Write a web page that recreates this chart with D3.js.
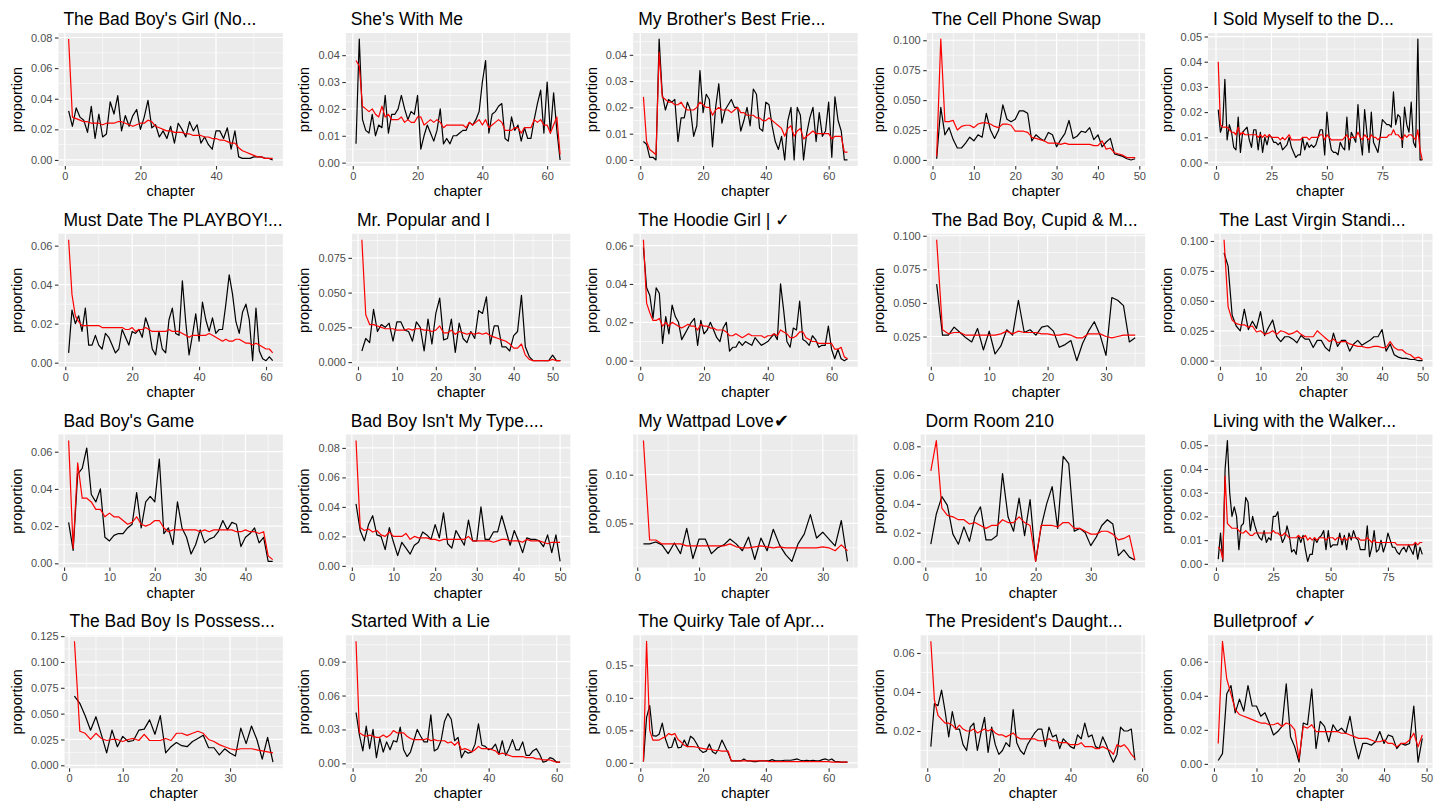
<!DOCTYPE html>
<html>
<head>
<meta charset="utf-8">
<script src="https://cdn.jsdelivr.net/npm/d3@7"></script>
<style>
  body { margin: 0; background: #fff; }
  svg text { font-family: "Liberation Sans", Arial, Helvetica, sans-serif; }
</style>
</head>
<body>
<script>
var panelTitles = [
  "The Bad Boy's Girl (No...", "She's With Me", "My Brother's Best Frie...", "The Cell Phone Swap", "I Sold Myself to the D...",
  "Must Date The PLAYBOY!...", "Mr. Popular and I", "The Hoodie Girl | \u2713", "The Bad Boy, Cupid & M...", "The Last Virgin Standi...",
  "Bad Boy's Game", "Bad Boy Isn't My Type....", "My Wattpad Love\u2714", "Dorm Room 210", "Living with the Walker...",
  "The Bad Boy Is Possess...", "Started With a Lie", "The Quirky Tale of Apr...", "The President's Daught...", "Bulletproof \u2713"
];

// black line: observed proportion per chapter; red line: predicted proportion
var actual01 = [0.032,0.022,0.034,0.028,0.026,0.018,0.035,0.014,0.030,0.015,0.017,0.038,0.030,0.042,0.019,0.029,0.022,0.029,0.033,0.020,0.028,0.039,0.021,0.023,0.015,0.019,0.014,0.022,0.011,0.024,0.020,0.015,0.025,0.019,0.023,0.011,0.015,0.010,0.007,0.019,0.019,0.014,0.021,0.007,0.019,0.002,0.001,0.001,0.001,0.002,0.002,0.002,0.001,0.001,0.000];
var model01 = [0.079,0.028,0.027,0.026,0.025,0.025,0.024,0.024,0.024,0.023,0.024,0.024,0.024,0.025,0.025,0.024,0.023,0.022,0.023,0.024,0.024,0.026,0.025,0.022,0.021,0.020,0.019,0.019,0.018,0.018,0.018,0.017,0.017,0.016,0.016,0.016,0.015,0.015,0.014,0.014,0.013,0.013,0.012,0.011,0.011,0.008,0.006,0.005,0.004,0.003,0.002,0.002,0.001,0.001,0.001];

var actual02 = [0.007,0.046,0.016,0.012,0.011,0.018,0.010,0.014,0.013,0.025,0.011,0.018,0.018,0.020,0.025,0.020,0.016,0.019,0.018,0.025,0.005,0.010,0.014,0.011,0.008,0.012,0.020,0.007,0.009,0.007,0.010,0.010,0.011,0.012,0.012,0.015,0.014,0.016,0.019,0.030,0.038,0.011,0.018,0.019,0.021,0.022,0.009,0.008,0.017,0.012,0.014,0.008,0.013,0.009,0.009,0.016,0.022,0.027,0.011,0.030,0.011,0.026,0.012,0.001];
var model02 = [0.038,0.036,0.021,0.020,0.019,0.020,0.018,0.017,0.021,0.017,0.018,0.016,0.016,0.016,0.017,0.015,0.016,0.015,0.015,0.017,0.017,0.014,0.015,0.016,0.015,0.016,0.015,0.013,0.014,0.014,0.014,0.014,0.014,0.014,0.013,0.015,0.014,0.015,0.016,0.014,0.016,0.013,0.014,0.015,0.016,0.015,0.012,0.012,0.012,0.013,0.013,0.011,0.013,0.013,0.013,0.016,0.015,0.016,0.014,0.014,0.011,0.014,0.017,0.003];

var actual03 = [0.007,0.006,0.001,0.001,0.000,0.046,0.025,0.019,0.023,0.022,0.023,0.007,0.016,0.016,0.022,0.019,0.009,0.013,0.034,0.018,0.025,0.023,0.005,0.020,0.029,0.014,0.019,0.021,0.023,0.020,0.020,0.011,0.015,0.020,0.013,0.027,0.025,0.012,0.011,0.022,0.021,0.013,0.007,0.004,0.009,0.000,0.015,0.020,0.000,0.020,0.017,0.000,0.010,0.016,0.020,0.007,0.018,0.009,0.011,0.022,0.001,0.024,0.015,0.011,0.000,0.000];
var model03 = [0.024,0.007,0.004,0.003,0.002,0.041,0.024,0.023,0.022,0.022,0.021,0.021,0.022,0.020,0.019,0.019,0.019,0.020,0.022,0.021,0.020,0.020,0.017,0.019,0.020,0.019,0.019,0.019,0.018,0.019,0.020,0.018,0.018,0.017,0.017,0.017,0.016,0.016,0.015,0.015,0.016,0.015,0.014,0.013,0.012,0.009,0.012,0.013,0.009,0.011,0.012,0.008,0.009,0.010,0.011,0.010,0.010,0.010,0.010,0.010,0.008,0.009,0.009,0.009,0.003,0.003];

var actual04 = [0.001,0.044,0.021,0.027,0.017,0.010,0.010,0.014,0.019,0.016,0.021,0.019,0.039,0.025,0.018,0.025,0.046,0.034,0.032,0.034,0.041,0.041,0.039,0.016,0.021,0.018,0.016,0.023,0.021,0.011,0.017,0.022,0.033,0.018,0.020,0.024,0.023,0.027,0.017,0.021,0.011,0.015,0.018,0.005,0.004,0.003,0.001,0.000,0.001];
var model04 = [0.003,0.101,0.032,0.032,0.033,0.025,0.028,0.029,0.029,0.027,0.030,0.031,0.031,0.030,0.028,0.027,0.030,0.030,0.029,0.024,0.024,0.024,0.023,0.019,0.018,0.017,0.016,0.014,0.014,0.014,0.013,0.014,0.013,0.013,0.013,0.013,0.013,0.013,0.012,0.012,0.016,0.009,0.010,0.006,0.005,0.004,0.002,0.002,0.002];

var actual05 = [0.021,0.012,0.015,0.033,0.009,0.015,0.012,0.006,0.005,0.018,0.004,0.012,0.013,0.014,0.009,0.006,0.013,0.013,0.005,0.012,0.004,0.010,0.007,0.011,0.010,0.008,0.008,0.007,0.008,0.005,0.006,0.007,0.010,0.006,0.004,0.002,0.003,0.003,0.010,0.005,0.008,0.006,0.007,0.006,0.007,0.010,0.013,0.013,0.003,0.020,0.010,0.005,0.004,0.004,0.003,0.008,0.006,0.005,0.018,0.005,0.012,0.010,0.008,0.023,0.010,0.003,0.021,0.012,0.004,0.020,0.008,0.006,0.004,0.010,0.017,0.016,0.015,0.015,0.014,0.028,0.015,0.019,0.018,0.006,0.022,0.015,0.012,0.024,0.008,0.006,0.049,0.001,0.001];
var model05 = [0.040,0.015,0.014,0.014,0.014,0.013,0.012,0.012,0.011,0.014,0.011,0.012,0.011,0.011,0.011,0.011,0.011,0.011,0.010,0.011,0.010,0.011,0.010,0.011,0.010,0.010,0.010,0.010,0.009,0.010,0.009,0.010,0.011,0.009,0.009,0.009,0.009,0.009,0.010,0.010,0.010,0.009,0.010,0.010,0.010,0.010,0.011,0.011,0.009,0.011,0.010,0.009,0.009,0.009,0.009,0.009,0.009,0.010,0.011,0.009,0.010,0.010,0.010,0.012,0.010,0.009,0.011,0.010,0.009,0.011,0.010,0.010,0.009,0.010,0.010,0.010,0.010,0.011,0.011,0.013,0.011,0.011,0.010,0.009,0.011,0.010,0.011,0.011,0.010,0.009,0.013,0.005,0.001];

var actual06 = [0.005,0.027,0.020,0.024,0.016,0.028,0.009,0.009,0.014,0.009,0.007,0.015,0.013,0.009,0.005,0.007,0.017,0.013,0.009,0.016,0.015,0.017,0.013,0.023,0.018,0.007,0.004,0.016,0.007,0.005,0.022,0.028,0.015,0.014,0.042,0.021,0.004,0.014,0.025,0.011,0.031,0.022,0.016,0.023,0.015,0.017,0.017,0.030,0.045,0.035,0.021,0.015,0.026,0.030,0.022,0.001,0.028,0.006,0.002,0.001,0.003,0.001];
var model06 = [0.063,0.035,0.024,0.021,0.019,0.019,0.019,0.019,0.019,0.019,0.018,0.018,0.018,0.018,0.018,0.018,0.018,0.017,0.017,0.018,0.016,0.017,0.017,0.018,0.017,0.016,0.016,0.016,0.016,0.016,0.017,0.016,0.016,0.016,0.015,0.014,0.013,0.014,0.014,0.014,0.014,0.014,0.015,0.014,0.013,0.012,0.011,0.012,0.011,0.011,0.012,0.012,0.011,0.010,0.010,0.009,0.010,0.009,0.008,0.007,0.007,0.005];

var actual07 = [0.008,0.017,0.014,0.038,0.022,0.027,0.025,0.028,0.015,0.029,0.029,0.023,0.022,0.015,0.029,0.025,0.008,0.031,0.013,0.035,0.046,0.016,0.017,0.031,0.007,0.028,0.017,0.014,0.022,0.017,0.037,0.035,0.047,0.013,0.026,0.026,0.011,0.011,0.008,0.019,0.022,0.048,0.011,0.004,0.001,0.001,0.001,0.001,0.001,0.005,0.001,0.001];
var model07 = [0.088,0.034,0.027,0.027,0.026,0.025,0.024,0.024,0.024,0.023,0.023,0.023,0.024,0.023,0.024,0.024,0.023,0.023,0.022,0.023,0.026,0.021,0.021,0.023,0.020,0.022,0.021,0.020,0.021,0.020,0.021,0.020,0.021,0.019,0.018,0.017,0.016,0.015,0.013,0.010,0.010,0.013,0.005,0.002,0.001,0.001,0.001,0.001,0.001,0.002,0.001,0.001];

var actual08 = [0.059,0.038,0.034,0.022,0.038,0.035,0.009,0.023,0.014,0.029,0.023,0.020,0.011,0.014,0.017,0.020,0.022,0.008,0.021,0.014,0.016,0.020,0.016,0.012,0.010,0.017,0.020,0.005,0.007,0.007,0.010,0.008,0.010,0.009,0.008,0.012,0.010,0.008,0.009,0.010,0.012,0.014,0.011,0.040,0.026,0.010,0.007,0.017,0.016,0.031,0.011,0.010,0.008,0.013,0.011,0.007,0.008,0.008,0.018,0.006,0.001,0.006,0.001,0.000,0.001];
var model08 = [0.063,0.030,0.025,0.021,0.021,0.022,0.018,0.020,0.018,0.020,0.019,0.018,0.017,0.018,0.019,0.018,0.018,0.016,0.019,0.018,0.018,0.017,0.017,0.016,0.016,0.016,0.015,0.013,0.013,0.014,0.013,0.012,0.013,0.014,0.013,0.013,0.013,0.013,0.012,0.013,0.013,0.014,0.013,0.016,0.015,0.014,0.012,0.012,0.013,0.015,0.015,0.012,0.011,0.010,0.010,0.009,0.009,0.009,0.009,0.009,0.006,0.006,0.007,0.002,0.001];

var actual09 = [0.064,0.026,0.026,0.032,0.028,0.024,0.021,0.031,0.015,0.029,0.012,0.018,0.030,0.026,0.052,0.028,0.030,0.026,0.032,0.033,0.029,0.017,0.019,0.022,0.007,0.020,0.029,0.036,0.026,0.011,0.054,0.052,0.048,0.021,0.024];
var model09 = [0.097,0.030,0.027,0.028,0.028,0.026,0.026,0.026,0.026,0.026,0.026,0.027,0.029,0.027,0.029,0.028,0.028,0.028,0.027,0.027,0.026,0.026,0.027,0.026,0.024,0.024,0.027,0.027,0.027,0.025,0.024,0.025,0.026,0.026,0.026];

var actual10 = [0.090,0.079,0.038,0.029,0.025,0.043,0.026,0.033,0.027,0.041,0.021,0.028,0.034,0.020,0.016,0.020,0.020,0.018,0.015,0.021,0.018,0.018,0.011,0.017,0.017,0.011,0.008,0.023,0.012,0.017,0.017,0.008,0.014,0.017,0.013,0.015,0.017,0.020,0.020,0.026,0.008,0.014,0.005,0.003,0.002,0.002,0.001,0.001,0.000,0.000];
var model10 = [0.101,0.045,0.034,0.031,0.030,0.030,0.028,0.029,0.024,0.025,0.022,0.023,0.025,0.022,0.025,0.024,0.022,0.023,0.025,0.022,0.020,0.020,0.020,0.025,0.022,0.019,0.016,0.018,0.015,0.016,0.016,0.014,0.013,0.012,0.012,0.011,0.011,0.012,0.012,0.011,0.011,0.016,0.011,0.009,0.009,0.006,0.005,0.002,0.003,0.001];

var actual11 = [0.022,0.007,0.048,0.051,0.062,0.037,0.033,0.040,0.014,0.012,0.015,0.016,0.016,0.019,0.021,0.038,0.019,0.033,0.036,0.033,0.056,0.016,0.019,0.010,0.033,0.019,0.014,0.005,0.010,0.018,0.011,0.013,0.014,0.017,0.023,0.018,0.022,0.021,0.009,0.014,0.016,0.019,0.011,0.014,0.001,0.001];
var model11 = [0.066,0.008,0.054,0.035,0.035,0.033,0.029,0.029,0.025,0.027,0.025,0.025,0.023,0.021,0.022,0.025,0.021,0.020,0.021,0.023,0.023,0.019,0.017,0.018,0.018,0.018,0.018,0.018,0.018,0.017,0.018,0.017,0.018,0.018,0.018,0.018,0.018,0.017,0.017,0.018,0.017,0.017,0.016,0.017,0.004,0.002];

var actual12 = [0.042,0.024,0.017,0.028,0.034,0.021,0.020,0.011,0.026,0.016,0.007,0.016,0.012,0.008,0.014,0.016,0.023,0.021,0.018,0.028,0.019,0.036,0.015,0.012,0.024,0.019,0.014,0.031,0.017,0.017,0.040,0.018,0.018,0.023,0.023,0.034,0.024,0.014,0.024,0.017,0.009,0.019,0.018,0.018,0.017,0.013,0.021,0.009,0.021,0.003];
var model12 = [0.085,0.026,0.024,0.025,0.023,0.024,0.021,0.020,0.023,0.020,0.020,0.020,0.022,0.018,0.020,0.019,0.019,0.019,0.018,0.018,0.017,0.018,0.018,0.018,0.018,0.018,0.018,0.020,0.017,0.017,0.017,0.017,0.017,0.016,0.017,0.018,0.018,0.017,0.017,0.017,0.016,0.018,0.017,0.017,0.017,0.016,0.015,0.016,0.016,0.016];

var actual13 = [0.029,0.029,0.031,0.028,0.019,0.030,0.019,0.045,0.014,0.034,0.034,0.019,0.025,0.028,0.034,0.029,0.022,0.036,0.013,0.035,0.022,0.044,0.028,0.018,0.011,0.029,0.039,0.059,0.035,0.041,0.034,0.027,0.053,0.011];
var model13 = [0.135,0.033,0.033,0.029,0.029,0.029,0.029,0.027,0.027,0.027,0.027,0.027,0.027,0.027,0.029,0.026,0.025,0.025,0.026,0.027,0.026,0.025,0.026,0.025,0.025,0.025,0.025,0.025,0.025,0.026,0.025,0.022,0.028,0.022];

var actual14 = [0.012,0.033,0.045,0.039,0.019,0.012,0.024,0.014,0.031,0.038,0.015,0.015,0.018,0.061,0.031,0.021,0.044,0.018,0.043,0.000,0.024,0.040,0.052,0.023,0.073,0.068,0.021,0.023,0.020,0.011,0.017,0.025,0.029,0.026,0.004,0.008,0.003,0.001];
var model14 = [0.063,0.084,0.037,0.032,0.031,0.029,0.029,0.026,0.027,0.025,0.023,0.025,0.025,0.029,0.027,0.027,0.031,0.027,0.025,0.000,0.025,0.025,0.025,0.024,0.027,0.027,0.023,0.023,0.021,0.019,0.019,0.021,0.021,0.019,0.015,0.016,0.018,0.001];

var actual15 = [0.002,0.013,0.001,0.040,0.052,0.030,0.020,0.024,0.020,0.006,0.016,0.017,0.028,0.026,0.014,0.020,0.016,0.013,0.011,0.010,0.014,0.009,0.011,0.010,0.020,0.020,0.022,0.013,0.009,0.011,0.016,0.012,0.005,0.006,0.004,0.012,0.009,0.012,0.006,0.001,0.004,0.004,0.011,0.009,0.011,0.012,0.014,0.006,0.014,0.007,0.008,0.008,0.008,0.013,0.008,0.012,0.006,0.013,0.010,0.014,0.011,0.010,0.006,0.006,0.006,0.016,0.003,0.007,0.014,0.005,0.006,0.010,0.005,0.008,0.013,0.010,0.007,0.007,0.005,0.004,0.006,0.007,0.005,0.008,0.006,0.004,0.009,0.002,0.007,0.004];
var model15 = [0.007,0.006,0.002,0.037,0.017,0.016,0.015,0.015,0.015,0.014,0.013,0.013,0.014,0.013,0.012,0.012,0.013,0.013,0.013,0.013,0.013,0.013,0.013,0.013,0.014,0.013,0.013,0.012,0.012,0.013,0.012,0.011,0.011,0.011,0.011,0.012,0.011,0.011,0.012,0.010,0.011,0.010,0.011,0.010,0.011,0.011,0.011,0.010,0.011,0.011,0.011,0.010,0.011,0.011,0.010,0.011,0.010,0.011,0.011,0.011,0.011,0.011,0.010,0.010,0.010,0.011,0.010,0.009,0.010,0.009,0.009,0.009,0.009,0.009,0.009,0.009,0.009,0.009,0.008,0.008,0.008,0.008,0.008,0.008,0.008,0.008,0.009,0.008,0.009,0.009];

var actual16 = [0.067,0.060,0.048,0.034,0.047,0.030,0.012,0.034,0.018,0.028,0.023,0.024,0.034,0.035,0.044,0.030,0.048,0.012,0.018,0.022,0.019,0.018,0.023,0.026,0.029,0.017,0.017,0.010,0.016,0.012,0.009,0.036,0.021,0.038,0.025,0.006,0.027,0.003];
var model16 = [0.120,0.033,0.031,0.025,0.031,0.026,0.024,0.025,0.025,0.023,0.025,0.026,0.024,0.030,0.024,0.024,0.024,0.026,0.024,0.031,0.031,0.029,0.031,0.033,0.031,0.025,0.023,0.020,0.018,0.016,0.015,0.016,0.016,0.016,0.015,0.014,0.013,0.012];

var actual17 = [0.045,0.025,0.011,0.033,0.013,0.030,0.005,0.022,0.010,0.019,0.012,0.020,0.019,0.032,0.012,0.006,0.010,0.020,0.030,0.024,0.019,0.019,0.043,0.011,0.013,0.020,0.037,0.044,0.039,0.020,0.023,0.005,0.011,0.009,0.010,0.017,0.035,0.016,0.015,0.012,0.013,0.017,0.008,0.020,0.007,0.013,0.021,0.012,0.012,0.019,0.007,0.007,0.011,0.013,0.008,0.001,0.002,0.005,0.004,0.001,0.001];
var model17 = [0.108,0.027,0.025,0.024,0.025,0.024,0.023,0.023,0.025,0.023,0.025,0.029,0.027,0.027,0.027,0.024,0.022,0.021,0.021,0.021,0.021,0.022,0.020,0.021,0.020,0.020,0.020,0.018,0.019,0.016,0.019,0.012,0.013,0.012,0.010,0.012,0.015,0.013,0.013,0.013,0.012,0.011,0.008,0.009,0.008,0.007,0.006,0.006,0.006,0.006,0.005,0.005,0.005,0.004,0.004,0.003,0.003,0.003,0.002,0.001,0.001];

var actual18 = [0.002,0.070,0.088,0.042,0.041,0.044,0.061,0.037,0.023,0.024,0.039,0.023,0.024,0.035,0.025,0.041,0.037,0.029,0.020,0.016,0.018,0.029,0.017,0.014,0.022,0.035,0.025,0.015,0.003,0.003,0.003,0.003,0.006,0.003,0.003,0.002,0.002,0.003,0.003,0.003,0.003,0.005,0.003,0.003,0.003,0.004,0.004,0.004,0.005,0.006,0.004,0.003,0.004,0.003,0.004,0.003,0.003,0.005,0.006,0.004,0.006,0.002,0.002,0.001,0.001,0.001];
var model18 = [0.002,0.187,0.050,0.035,0.035,0.035,0.038,0.040,0.045,0.043,0.045,0.036,0.032,0.027,0.025,0.025,0.025,0.024,0.023,0.022,0.021,0.021,0.020,0.019,0.019,0.018,0.018,0.018,0.003,0.003,0.003,0.003,0.003,0.003,0.003,0.003,0.003,0.003,0.003,0.003,0.002,0.002,0.002,0.002,0.002,0.002,0.002,0.002,0.002,0.002,0.002,0.002,0.002,0.002,0.002,0.002,0.002,0.002,0.002,0.002,0.001,0.001,0.001,0.001,0.001,0.001];

var actual19 = [0.012,0.034,0.033,0.041,0.030,0.017,0.030,0.021,0.021,0.013,0.010,0.022,0.024,0.010,0.019,0.027,0.009,0.022,0.013,0.008,0.010,0.014,0.012,0.031,0.014,0.010,0.008,0.013,0.016,0.019,0.021,0.021,0.012,0.022,0.017,0.018,0.011,0.016,0.014,0.012,0.011,0.018,0.016,0.024,0.017,0.018,0.012,0.011,0.017,0.013,0.008,0.004,0.008,0.022,0.020,0.020,0.021,0.005];
var model19 = [0.066,0.036,0.028,0.026,0.024,0.024,0.023,0.021,0.023,0.021,0.020,0.020,0.021,0.019,0.020,0.021,0.020,0.021,0.019,0.018,0.018,0.017,0.018,0.019,0.017,0.016,0.016,0.016,0.016,0.016,0.015,0.015,0.015,0.016,0.015,0.015,0.014,0.014,0.014,0.013,0.013,0.013,0.014,0.012,0.012,0.012,0.011,0.011,0.012,0.011,0.010,0.008,0.013,0.012,0.013,0.011,0.008,0.006];

var actual20 = [0.002,0.006,0.041,0.046,0.030,0.038,0.031,0.046,0.034,0.034,0.028,0.030,0.024,0.017,0.019,0.022,0.047,0.016,0.010,0.001,0.024,0.023,0.044,0.009,0.025,0.022,0.013,0.023,0.019,0.021,0.018,0.028,0.013,0.003,0.012,0.012,0.011,0.013,0.019,0.012,0.017,0.016,0.009,0.012,0.011,0.012,0.034,0.001,0.015];
var model20 = [0.012,0.072,0.050,0.041,0.032,0.029,0.028,0.027,0.026,0.025,0.024,0.024,0.023,0.023,0.024,0.022,0.024,0.023,0.020,0.003,0.022,0.021,0.023,0.019,0.019,0.019,0.019,0.019,0.019,0.018,0.018,0.017,0.016,0.015,0.015,0.015,0.014,0.013,0.013,0.014,0.012,0.012,0.010,0.012,0.012,0.014,0.018,0.010,0.017];

var yTickLabels = [
  ["0.00","0.02","0.04","0.06","0.08"], ["0.00","0.01","0.02","0.03","0.04"], ["0.00","0.01","0.02","0.03","0.04"],
  ["0.000","0.025","0.050","0.075","0.100"], ["0.00","0.01","0.02","0.03","0.04","0.05"],
  ["0.00","0.02","0.04","0.06"], ["0.000","0.025","0.050","0.075"], ["0.00","0.02","0.04","0.06"],
  ["0.025","0.050","0.075","0.100"], ["0.000","0.025","0.050","0.075","0.100"],
  ["0.00","0.02","0.04","0.06"], ["0.00","0.02","0.04","0.06","0.08"], ["0.05","0.10"],
  ["0.00","0.02","0.04","0.06","0.08"], ["0.00","0.01","0.02","0.03","0.04","0.05"],
  ["0.000","0.025","0.050","0.075","0.100","0.125"], ["0.00","0.03","0.06","0.09"], ["0.00","0.05","0.10","0.15"],
  ["0.02","0.04","0.06"], ["0.00","0.02","0.04","0.06"]
];

var xTickValues = [
  [0,20,40], [0,20,40,60], [0,20,40,60], [0,10,20,30,40,50], [0,25,50,75],
  [0,20,40,60], [0,10,20,30,40,50], [0,20,40,60], [0,10,20,30], [0,10,20,30,40,50],
  [0,10,20,30,40], [0,10,20,30,40,50], [0,10,20,30], [0,10,20,30], [0,25,50,75],
  [0,10,20,30], [0,20,40,60], [0,20,40,60], [0,20,40,60], [0,10,20,30,40,50]
];

var actualSeries = [actual01, actual02, actual03, actual04, actual05, actual06, actual07, actual08, actual09, actual10,
  actual11, actual12, actual13, actual14, actual15, actual16, actual17, actual18, actual19, actual20];
var modelSeries = [model01, model02, model03, model04, model05, model06, model07, model08, model09, model10,
  model11, model12, model13, model14, model15, model16, model17, model18, model19, model20];

var width = 1437, height = 803;
var nCols = 5, nRows = 4;
var cellW = width / nCols, cellH = height / nRows;
var panelTop = 33, panelBottom = 166;

var svg = d3.select("body").append("svg")
  .attr("width", width)
  .attr("height", height);

svg.append("rect").attr("width", width).attr("height", height).attr("fill", "#fff");

var measure = svg.append("text").attr("font-size", 11).style("visibility", "hidden");
function textWidth(s) {
  measure.text(s);
  return measure.node().getComputedTextLength();
}

// minor breaks sit halfway between major ones, like ggplot
function minorBreaks(ticks, domain) {
  var step = ticks.length > 1 ? ticks[1] - ticks[0] : 1;
  var out = [];
  for (var k = -1; k < ticks.length; k++) {
    var m = (k < 0 ? ticks[0] - step : ticks[k]) + step / 2;
    if (m >= domain[0] && m <= domain[1]) out.push(m);
  }
  return out;
}

panelTitles.forEach(function (title, i) {
  var actual = actualSeries[i];
  var model = modelSeries[i];
  var n = actual.length;
  var col = i % nCols, row = Math.floor(i / nCols);

  var g = svg.append("g")
    .attr("transform", "translate(" + (col * cellW) + "," + (row * cellH) + ")");

  var yLabels = yTickLabels[i];
  var yValues = yLabels.map(Number);
  var left = 37 + d3.max(yLabels, textWidth);
  var right = cellW - 4.5;

  var xPad = (n - 1) * 0.05;
  var x = d3.scaleLinear()
    .domain([1 - xPad, n + xPad])
    .range([left, right]);

  var all = actual.concat(model);
  var lo = d3.min(all), hi = d3.max(all);
  var yPad = (hi - lo) * 0.05;
  var y = d3.scaleLinear()
    .domain([lo - yPad, hi + yPad])
    .range([panelBottom, panelTop]);

  g.append("rect")
    .attr("x", left).attr("y", panelTop)
    .attr("width", right - left).attr("height", panelBottom - panelTop)
    .attr("fill", "#EBEBEB");

  var xMinor = minorBreaks(xTickValues[i], x.domain());
  var yMinor = minorBreaks(yValues, y.domain());

  g.selectAll(".xminor").data(xMinor).enter().append("line")
    .attr("x1", x).attr("x2", x).attr("y1", panelTop).attr("y2", panelBottom)
    .attr("stroke", "#fff").attr("stroke-width", 0.6);
  g.selectAll(".yminor").data(yMinor).enter().append("line")
    .attr("y1", y).attr("y2", y).attr("x1", left).attr("x2", right)
    .attr("stroke", "#fff").attr("stroke-width", 0.6);
  g.selectAll(".xmajor").data(xTickValues[i]).enter().append("line")
    .attr("x1", x).attr("x2", x).attr("y1", panelTop).attr("y2", panelBottom)
    .attr("stroke", "#fff").attr("stroke-width", 1.2);
  g.selectAll(".ymajor").data(yValues).enter().append("line")
    .attr("y1", y).attr("y2", y).attr("x1", left).attr("x2", right)
    .attr("stroke", "#fff").attr("stroke-width", 1.2);

  var line = d3.line()
    .x(function (d, j) { return x(j + 1); })
    .y(function (d) { return y(d); });

  g.append("path").datum(actual)
    .attr("d", line)
    .attr("fill", "none").attr("stroke", "#000").attr("stroke-width", 1.2)
    .attr("stroke-linejoin", "round");
  g.append("path").datum(model)
    .attr("d", line)
    .attr("fill", "none").attr("stroke", "#FF0000").attr("stroke-width", 1.2)
    .attr("stroke-linejoin", "round");

  var xAxis = g.append("g")
    .attr("transform", "translate(0," + panelBottom + ")")
    .call(d3.axisBottom(x).tickValues(xTickValues[i]).tickSize(3.5).tickPadding(2.5).tickFormat(d3.format("d")));
  var yAxis = g.append("g")
    .attr("transform", "translate(" + left + ",0)")
    .call(d3.axisLeft(y).tickValues(yValues).tickSize(3.5).tickPadding(2.5)
      .tickFormat(function (d, j) { return yLabels[j]; }));

  [xAxis, yAxis].forEach(function (ax) {
    ax.select(".domain").remove();
    ax.selectAll(".tick line").attr("stroke", "#333").attr("stroke-width", 1.1);
    ax.selectAll(".tick text").attr("fill", "#4D4D4D").attr("font-size", 11)
      .style("font-family", "'Liberation Sans', Arial, sans-serif");
  });

  g.append("text")
    .attr("x", left + 5).attr("y", 25)
    .attr("font-size", 17.5).attr("fill", "#000")
    .text(title);

  g.append("text")
    .attr("x", (left + right) / 2).attr("y", 196)
    .attr("text-anchor", "middle")
    .attr("font-size", 14.5).attr("fill", "#000")
    .text("chapter");

  g.append("text")
    .attr("transform", "translate(22," + ((panelTop + panelBottom) / 2) + ") rotate(-90)")
    .attr("text-anchor", "middle")
    .attr("font-size", 14.5).attr("fill", "#000")
    .text("proportion");
});

measure.remove();
</script>
</body>
</html>
